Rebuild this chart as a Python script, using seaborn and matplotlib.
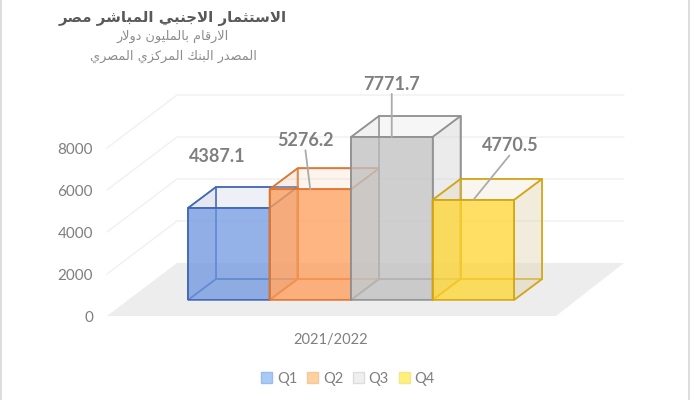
import pandas as pd
import matplotlib
matplotlib.use("Agg")
import matplotlib.pyplot as plt
import seaborn as sns
from matplotlib.colors import to_rgba
from matplotlib.patches import Patch, Rectangle

# Data
period = "2021/2022"
quarters = ["Q1", "Q2", "Q3", "Q4"]
fdi_values = [4387.1, 5276.2, 7771.7, 4770.5]
y_ticks = [0, 2000, 4000, 6000, 8000]
title_text = "الاستثمار الاجنبي المباشر مصر"
subtitle_1 = "الارقام بالمليون دولار"
subtitle_2 = "المصدر البنك المركزي المصري"

# Colours
edge_colors = ["#3F66B2", "#DC7430", "#8F8F8F", "#D2A414"]
front_colors = ["#7098E0", "#FF9C58", "#C0C0C0", "#FFD630"]
side_colors = ["#AAB4D7", "#F0C8A8", "#D3D3D3", "#E0D5B1"]
legend_colors = ["#A9C9F7", "#FFD0A0", "#EFEFEF", "#FFF07A"]
legend_edges = ["#9CBBE8", "#F5C79C", "#DDDDDD", "#F5E58C"]
text_gray = "#7F7F7F"

# Arabic has to be joined by hand, matplotlib does not shape it
FOUR_FORMS = {"ب": 0xFE8F, "ت": 0xFE95, "ث": 0xFE99, "ج": 0xFE9D, "س": 0xFEB1, "ش": 0xFEB5,
              "ص": 0xFEB9, "ق": 0xFED5, "ك": 0xFED9, "ل": 0xFEDD, "م": 0xFEE1, "ن": 0xFEE5, "ي": 0xFEF1}
TWO_FORMS = {"ا": 0xFE8D, "د": 0xFEA9, "ر": 0xFEAD, "ز": 0xFEAF, "و": 0xFEED}


def shape_arabic(text):
    words = []
    for word in text.split(" "):
        out = []
        joined = False
        i = 0
        while i < len(word):
            ch = word[i]
            nxt = word[i + 1] if i + 1 < len(word) else ""
            if ch == "ل" and nxt == "ا":
                out.append(chr(0xFEFC if joined else 0xFEFB))
                joined = False
                i += 2
                continue
            if ch in TWO_FORMS:
                out.append(chr(TWO_FORMS[ch] + (1 if joined else 0)))
                joined = False
            else:
                if joined and nxt:
                    offset = 3
                elif joined:
                    offset = 1
                elif nxt:
                    offset = 2
                else:
                    offset = 0
                out.append(chr(FOUR_FORMS[ch] + offset))
                joined = bool(nxt)
            i += 1
        words.append("".join(reversed(out)))
    return " ".join(reversed(words))


sns.set_theme(style="white")
plt.rcParams["font.family"] = ["Lato", "DejaVu Sans"]

W, H = 690, 400
fig = plt.figure(figsize=(W / 100, H / 100), dpi=100, facecolor="white")
fig.add_artist(Rectangle((0, 0), 2 / W, 1, transform=fig.transFigure, color="#DDDDDD", lw=0))
fig.add_artist(Rectangle((1 - 2 / W, 0), 2 / W, 1, transform=fig.transFigure, color="#DDDDDD", lw=0))

# Wall and floor, with the value axis on the front edge
ax_y = fig.add_axes([107 / W, (H - 316) / H, 449 / W, 168 / H])
ax_y.set_xlim(0, 449)
ax_y.set_ylim(0, 8000)
ax_y.set_facecolor("none")
sns.despine(ax=ax_y, left=True, bottom=True)
ax_y.set_xticks([224], [period])
ax_y.set_yticks(y_ticks)
ax_y.tick_params(axis="y", length=0, pad=10, labelsize=11, labelcolor=text_gray)
ax_y.tick_params(axis="x", length=0, pad=12, labelsize=10.5, labelcolor=text_gray)
wall_dx, wall_dy = 70, 2524
ax_y.fill([0, 449, 517, 70], [0, 0, wall_dy, wall_dy], color="#EDEDED", lw=0, clip_on=False)
for t in y_ticks[1:]:
    ax_y.plot([0, wall_dx, 517], [t, t + wall_dy, t + wall_dy], color="#F0F0F0", lw=1, clip_on=False)

# Bars: front faces come from the barplot, depth is added from each bar
px_per_x = 407.5
ax = fig.add_axes([107 / W, (H - 300) / H, 449 / W, 210 / H])
ax.set_facecolor("none")
df = pd.DataFrame({"period": period, "quarter": quarters, "fdi": fdi_values})
sns.barplot(data=df, x="period", y="fdi", hue="quarter", palette=front_colors, width=0.8, gap=0,
            legend=False, ax=ax)
ax.set_xlim((107 - 351) / px_per_x, (556 - 351) / px_per_x)
ax.set_ylim(0, 10014)
ax.set_xlabel("")
ax.set_ylabel("")
ax.set_xticks([])
ax.set_yticks([])
sns.despine(ax=ax, left=True, bottom=True)

dx = 28 / px_per_x
dy = 21 / (210 / 10014)
bars = sorted(ax.patches, key=lambda p: p.get_x())
for i, bar in enumerate(bars):
    x0, x1 = bar.get_x(), bar.get_x() + bar.get_width()
    h = bar.get_height()
    z = 2 + i
    ec = edge_colors[i]
    bar.set_facecolor(to_rgba(front_colors[i], 0.75))
    bar.set_edgecolor(ec)
    bar.set_linewidth(1.2)
    bar.set_zorder(z + 0.5)
    # back, floor, left, right, top
    faces = [
        ([x0 + dx, x1 + dx, x1 + dx, x0 + dx], [dy, dy, h + dy, h + dy], 0.0),
        ([x0, x1, x1 + dx, x0 + dx], [0, 0, dy, dy], 0.08),
        ([x0, x0 + dx, x0 + dx, x0], [0, dy, h + dy, h], 0.12),
        ([x1, x1 + dx, x1 + dx, x1], [0, dy, h + dy, h], 0.45),
        ([x0, x1, x1 + dx, x0 + dx], [h, h, h + dy, h + dy], 0.2),
    ]
    for xs, ys, alpha in faces:
        ax.fill(xs, ys, facecolor=to_rgba(side_colors[i], alpha), edgecolor=to_rgba(ec, 0.85), lw=1.2,
                zorder=z, clip_on=False)

# Value labels, placed relative to the bar tops
label_offsets = [(-11, 51), (-5, 49), (0, 53), (37, 54)]
for i, bar in enumerate(bars):
    props = None
    if i > 0:
        props = dict(arrowstyle="-", color="#ABABAB", lw=1.3, relpos=(0.5, 0), patchA=None,
                     shrinkA=1, shrinkB=0)
    ax.annotate(f"{fdi_values[i]:.1f}", xy=(bar.get_x() + bar.get_width() / 2, bar.get_height()),
                xytext=label_offsets[i], textcoords="offset pixels", ha="center", va="center",
                fontsize=13, fontweight="bold", color=text_gray, arrowprops=props,
                annotation_clip=False, zorder=10)

# Titles
fig.text(173 / W, 1 - 18 / H, shape_arabic(title_text), ha="center", va="center", fontsize=10.8,
         fontweight="bold", color="#595959", family="DejaVu Sans")
fig.text(173 / W, 1 - 36 / H, shape_arabic(subtitle_1), ha="center", va="center", fontsize=9.3,
         color="#8C8C8C", family="DejaVu Sans")
fig.text(173 / W, 1 - 56 / H, shape_arabic(subtitle_2), ha="center", va="center", fontsize=9.3,
         color="#8C8C8C", family="DejaVu Sans")

# Legend
handles = [Patch(facecolor=legend_colors[i], edgecolor=legend_edges[i], lw=1) for i in range(4)]
ax.legend(handles, quarters, ncol=4, loc="center", bbox_to_anchor=(348 / W, 1 - 379 / H),
          bbox_transform=fig.transFigure, frameon=False, fontsize=10.5, handlelength=0.78,
          handleheight=0.78, handletextpad=0.3, columnspacing=0.68, labelcolor=text_gray)

plt.savefig("out.png", dpi=100)
